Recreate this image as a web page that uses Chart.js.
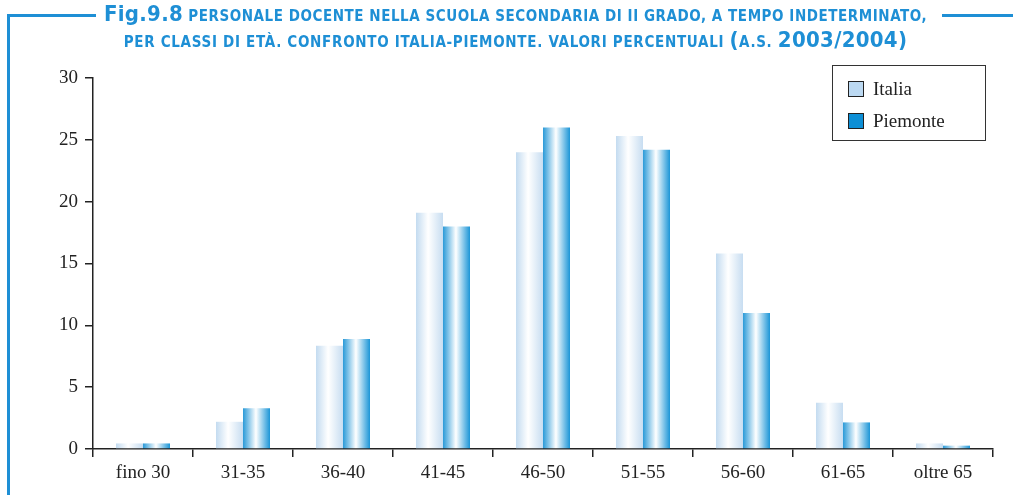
<!DOCTYPE html>
<html><head><meta charset="utf-8">
<script src="https://cdn.jsdelivr.net/npm/chart.js@4/dist/chart.umd.min.js"></script>
<style>
html,body{margin:0;padding:0;background:#fff;}
#wrap{position:relative;width:1013px;height:495px;overflow:hidden;}
canvas{position:absolute;left:0;top:0;}
.t{position:absolute;left:9px;width:1013px;text-align:center;color:#1e8fd5;font-family:"DejaVu Sans Condensed","Liberation Sans Narrow","DejaVu Sans",sans-serif;font-weight:bold;font-size:15px;white-space:nowrap;letter-spacing:0.55px;}
.big{font-size:22px;letter-spacing:0.3px;}
.hl{position:absolute;height:3px;background:#1e8fd5;top:14px;}
.vl{position:absolute;width:3px;background:#1e8fd5;left:7px;top:14px;height:481px;}
#legend{position:absolute;left:832px;top:65px;width:154px;height:76px;border:1px solid #333;box-sizing:border-box;font-family:"Liberation Serif","DejaVu Serif",serif;font-size:19px;color:#222;}
.li{position:absolute;left:15px;height:20px;line-height:20px;}
.sw{display:inline-block;width:14px;height:14px;border:1px solid #222;vertical-align:middle;margin-right:9px;position:relative;top:-2px;}
</style></head>
<body><div id="wrap">
<canvas id="c" width="1013" height="495"></canvas>
<div class="hl" style="left:7px;width:89px"></div>
<div class="hl" style="left:942px;width:71px"></div>
<div class="vl"></div>
<div class="t" style="top:1px;"><span class="big">Fig.9.8</span> PERSONALE DOCENTE NELLA SCUOLA SECONDARIA DI II GRADO, A TEMPO INDETERMINATO,</div>
<div class="t" style="top:27px;letter-spacing:0.7px;">PER CLASSI DI ETÀ. CONFRONTO ITALIA-PIEMONTE. VALORI PERCENTUALI <span class="big">(</span>A.S. <span class="big">2003/2004)</span></div>
<div id="legend">
<div class="li" style="top:13px"><span class="sw" style="background:#bcd9f2"></span>Italia</div>
<div class="li" style="top:45px"><span class="sw" style="background:#0d8fd6"></span>Piemonte</div>
</div>
</div>
<script>
const categories = ["fino 30","31-35","36-40","41-45","46-50","51-55","56-60","61-65","oltre 65"];
const italia   = [0.45, 2.2, 8.35, 19.1, 24.0, 25.3, 15.8, 3.75, 0.45];
const piemonte = [0.45, 3.3, 8.9, 18.0, 26.0, 24.2, 11.0, 2.15, 0.27];
const yTicks = [0,5,10,15,20,25,30];

const gradStops = {
  0: [[0,'#c3dbf0'],[0.45,'#ffffff'],[1,'#c7ddf1']],
  1: [[0,'#2a9ad8'],[0.48,'#ffffff'],[1,'#1b95d7']]
};
const gradPlugin = {
  id:'grad',
  beforeDatasetDraw(chart, args){
    const meta = args.meta; const ctx = chart.ctx;
    const stops = gradStops[args.index];
    meta.data.forEach(el=>{
      const p = el.getProps(['x','width'], true);
      const g = ctx.createLinearGradient(p.x - p.width/2, 0, p.x + p.width/2, 0);
      stops.forEach(s=>g.addColorStop(s[0], s[1]));
      el.options = Object.assign({}, el.options, {backgroundColor:g});
    });
  }
};
const axisFont = {family:'"Liberation Serif","DejaVu Serif",serif', size:19};
new Chart(document.getElementById('c'), {
  type:'bar',
  data:{labels:categories, datasets:[
    {label:'Italia', data:italia, backgroundColor:'#c3dbf0', borderWidth:0, categoryPercentage:0.54, barPercentage:1.0},
    {label:'Piemonte', data:piemonte, backgroundColor:'#1b95d7', borderWidth:0, categoryPercentage:0.54, barPercentage:1.0}
  ]},
  options:{
    responsive:false, animation:false, devicePixelRatio:1,
    layout:{padding:{top:78,right:20,left:0,bottom:0}},
    plugins:{legend:{display:false}, title:{display:false}, tooltip:{enabled:false}},
    scales:{
      x:{
        grid:{display:true, drawOnChartArea:false, drawTicks:true, tickLength:8, color:'#222', lineWidth:1.5, offset:true},
        border:{display:true, color:'#222', width:1.5},
        ticks:{color:'#222', font:axisFont, padding:5},
        afterFit(s){ s.height = 46; }
      },
      y:{
        min:0, max:30,
        afterBuildTicks(s){ s.ticks = yTicks.map(v=>({value:v})); },
        grid:{display:true, drawOnChartArea:false, drawTicks:true, tickLength:8, color:'#222', lineWidth:1.5},
        border:{display:true, color:'#222', width:1.5},
        ticks:{color:'#222', font:axisFont, padding:7},
        afterFit(s){ s.width = 93; }
      }
    }
  },
  plugins:[gradPlugin]
});
</script>
</body></html>
